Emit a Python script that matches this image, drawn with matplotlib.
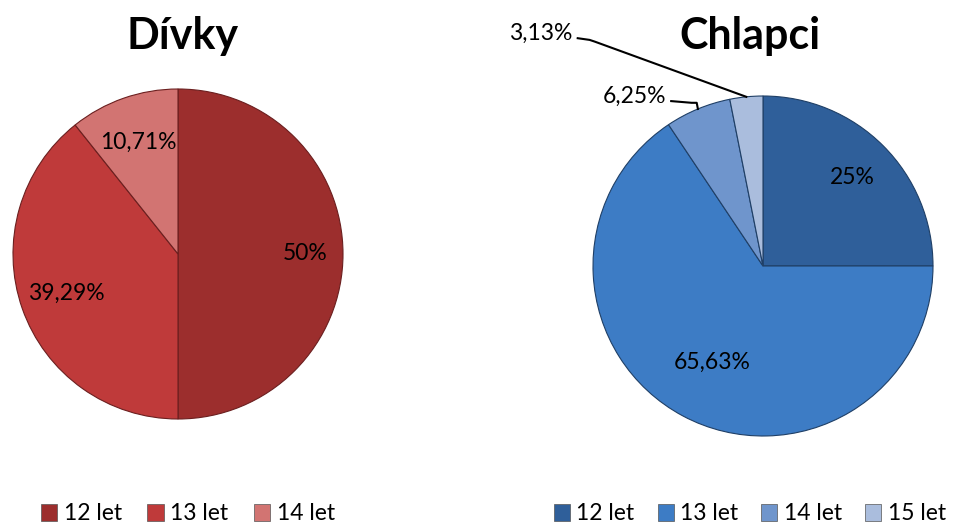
import numpy as np
import matplotlib.pyplot as plt
from matplotlib.patches import Patch

plt.rcParams['font.family'] = ['Lato', 'DejaVu Sans']

# Dívky
girls_labels = ['12 let', '13 let', '14 let']
girls_values = [50.0, 39.29, 10.71]
girls_text = ['50%', '39,29%', '10,71%']
girls_colors = ['#9c2e2d', '#bf3a3a', '#d27472']

# Chlapci
boys_labels = ['12 let', '13 let', '14 let', '15 let']
boys_values = [25.0, 65.63, 6.25, 3.13]
boys_text = ['25%', '65,63%', '6,25%', '3,13%']
boys_colors = ['#2f5f9a', '#3d7cc5', '#6f95cc', '#aabddd']

W, H = 958, 524
fig = plt.figure(figsize=(W / 100, H / 100), dpi=100, facecolor='w')


def pie_axes(cx, cy, r):
    return fig.add_axes([(cx - r) / W, (H - cy - r) / H, 2 * r / W, 2 * r / H])


def draw_pie(ax, values, colors, edge):
    wedges, _ = ax.pie(values, colors=colors, startangle=90, counterclock=False,
                       radius=1, wedgeprops=dict(edgecolor=edge, linewidth=0.8))
    ax.set_xlim(-1, 1)
    ax.set_ylim(-1, 1)
    ax.set_aspect('equal')
    ax.axis('off')
    return wedges


def mid_angle(w):
    return np.deg2rad((w.theta1 + w.theta2) / 2)


# left pie
ax1 = pie_axes(178, 254, 165)
w1 = draw_pie(ax1, girls_values, girls_colors, '#6b1f1f')
for w, t, d in zip(w1, girls_text, [0.77, 0.72, 0.72]):
    a = mid_angle(w)
    ax1.text(d * np.cos(a), d * np.sin(a), t, ha='center', va='center', fontsize=16.5)

# right pie
ax2 = pie_axes(763, 266, 170)
w2 = draw_pie(ax2, boys_values, boys_colors, '#1f3f66')
for w, t, d in zip(w2[:2], boys_text[:2], [0.74, 0.64]):
    a = mid_angle(w)
    ax2.text(d * np.cos(a), d * np.sin(a), t, ha='center', va='center', fontsize=16.5)

# outside labels with leader lines
for w, t, xy_text, elbow in [(w2[2], boys_text[2], (-0.57, 1.0), (-0.39, 0.96)),
                             (w2[3], boys_text[3], (-1.12, 1.37), (-0.99, 1.32))]:
    a = mid_angle(w)
    px, py = np.cos(a), np.sin(a)
    ax2.plot([xy_text[0] + 0.03, elbow[0] - 0.03, elbow[0], px],
             [xy_text[1] - 0.03, xy_text[1] - 0.04, elbow[1], py],
             color='black', lw=1.5, clip_on=False)
    ax2.text(xy_text[0], xy_text[1], t, ha='right', va='center', fontsize=16.5)

fig.text(183 / W, 1 - 36 / H, 'Dívky', ha='center', va='center', fontsize=31, fontweight='bold')
fig.text(750 / W, 1 - 36 / H, 'Chlapci', ha='center', va='center', fontsize=31, fontweight='bold')

h1 = [Patch(facecolor=c, edgecolor='#555555', lw=0.5) for c in girls_colors]
fig.legend(h1, girls_labels, loc='center', bbox_to_anchor=(188 / W, 1 - 514 / H), ncol=3,
           frameon=False, fontsize=16.5, handlelength=0.7, handleheight=0.7,
           handletextpad=0.3, columnspacing=1.1)
h2 = [Patch(facecolor=c, edgecolor='#555555', lw=0.5) for c in boys_colors]
fig.legend(h2, boys_labels, loc='center', bbox_to_anchor=(750 / W, 1 - 514 / H), ncol=4,
           frameon=False, fontsize=16.5, handlelength=0.7, handleheight=0.7,
           handletextpad=0.3, columnspacing=1.0, borderpad=0.1)

fig.savefig('out.png', dpi=100)
